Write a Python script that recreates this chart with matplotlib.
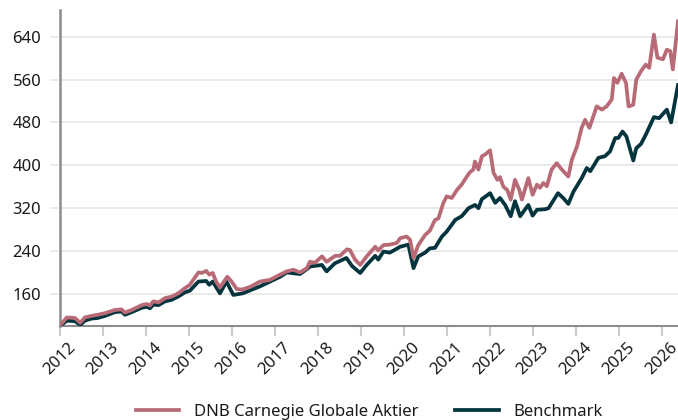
# Fund vs benchmark, indexed to 100 at start
import matplotlib
matplotlib.use("Agg")
import matplotlib.pyplot as plt

fund_name = "DNB Carnegie Globale Aktier"
bench_name = "Benchmark"

fund_t = [2012.0, 2012.16, 2012.35, 2012.47, 2012.58, 2012.74, 2012.88, 2013.05, 2013.28, 2013.43,
          2013.51, 2013.67, 2013.9, 2014.02, 2014.09, 2014.17, 2014.29, 2014.44, 2014.6, 2014.75,
          2014.91, 2015.02, 2015.22, 2015.3, 2015.4, 2015.47, 2015.55, 2015.63, 2015.72, 2015.89,
          2015.99, 2016.11, 2016.23, 2016.42, 2016.65, 2016.88, 2017.12, 2017.27, 2017.43, 2017.58,
          2017.74, 2017.81, 2017.93, 2018.09, 2018.2, 2018.4, 2018.51, 2018.67, 2018.74, 2018.86,
          2018.98, 2019.13, 2019.33, 2019.4, 2019.52, 2019.67, 2019.83, 2019.91, 2020.06, 2020.14,
          2020.22, 2020.33, 2020.49, 2020.6, 2020.72, 2020.8, 2020.91, 2020.99, 2021.11, 2021.23,
          2021.34, 2021.46, 2021.53, 2021.61, 2021.65, 2021.73, 2021.81, 2021.88, 2022.0, 2022.08,
          2022.17, 2022.23, 2022.31, 2022.4, 2022.48, 2022.58, 2022.68, 2022.74, 2022.89, 2022.99,
          2023.09, 2023.16, 2023.24, 2023.32, 2023.43, 2023.55, 2023.67, 2023.82, 2023.9, 2024.02,
          2024.13, 2024.21, 2024.31, 2024.48, 2024.6, 2024.71, 2024.83, 2024.88, 2024.96, 2025.06,
          2025.16, 2025.22, 2025.33, 2025.4, 2025.51, 2025.62, 2025.7, 2025.81, 2025.89, 2026.02,
          2026.11, 2026.19, 2026.25, 2026.37]
fund_v = [101, 116, 115, 106, 116, 119, 121, 124, 130, 131,
          125, 130, 139, 141, 138, 146, 144, 152, 155, 161,
          171, 177, 200, 199, 203, 196, 199, 183, 172, 192,
          183, 169, 168, 173, 183, 186, 196, 202, 205, 200,
          208, 220, 218, 230, 220, 231, 231, 243, 242, 224,
          214, 230, 248, 241, 251, 252, 255, 264, 267, 261,
          227, 251, 270, 278, 298, 301, 329, 342, 339, 354,
          364, 379, 387, 392, 407, 392, 417, 420, 428, 386,
          373, 378, 360, 354, 336, 373, 354, 336, 376, 345,
          364, 358, 367, 361, 392, 404, 392, 379, 410, 435,
          470, 485, 470, 510, 504, 510, 523, 563, 554, 571,
          554, 510, 513, 560, 576, 588, 582, 644, 601, 598,
          616, 613, 579, 669]

bench_t = [2012.0, 2012.16, 2012.35, 2012.47, 2012.58, 2012.74, 2012.88, 2013.05, 2013.28, 2013.43,
           2013.51, 2013.67, 2013.9, 2014.02, 2014.09, 2014.17, 2014.29, 2014.44, 2014.6, 2014.75,
           2014.91, 2015.02, 2015.22, 2015.4, 2015.47, 2015.55, 2015.72, 2015.87, 2016.03, 2016.25,
           2016.65, 2017.12, 2017.27, 2017.58, 2017.77, 2017.81, 2018.09, 2018.2, 2018.39, 2018.66,
           2018.79, 2018.98, 2019.13, 2019.33, 2019.4, 2019.52, 2019.67, 2019.91, 2020.1, 2020.22,
           2020.33, 2020.49, 2020.6, 2020.72, 2020.88, 2020.99, 2021.19, 2021.34, 2021.5, 2021.65,
           2021.73, 2021.81, 2021.9, 2022.0, 2022.12, 2022.23, 2022.35, 2022.48, 2022.58, 2022.7,
           2022.89, 2022.99, 2023.09, 2023.28, 2023.36, 2023.58, 2023.7, 2023.82, 2023.94, 2024.13,
           2024.25, 2024.33, 2024.52, 2024.67, 2024.79, 2024.91, 2024.98, 2025.08, 2025.17, 2025.33,
           2025.4, 2025.51, 2025.62, 2025.81, 2025.93, 2026.11, 2026.21, 2026.37]
bench_v = [100, 110, 109, 102, 110, 114, 115, 119, 126, 127,
           121, 126, 134, 136, 133, 140, 139, 146, 149, 155,
           163, 166, 183, 184, 177, 183, 161, 183, 158, 161,
           174, 192, 200, 197, 208, 211, 214, 202, 217, 227,
           212, 199, 214, 231, 224, 239, 237, 248, 252, 208,
           230, 237, 245, 246, 267, 276, 298, 305, 320, 326,
           320, 337, 342, 348, 330, 339, 326, 305, 333, 305,
           326, 306, 317, 318, 320, 348, 339, 328, 351, 376,
           395, 389, 414, 417, 426, 451, 451, 463, 454, 409,
           432, 440, 457, 490, 488, 504, 480, 550]

years = list(range(2012, 2027))
yticks = [160, 240, 320, 400, 480, 560, 640]

plt.rcParams['font.family'] = ['Noto Sans', 'DejaVu Sans']

fig = plt.figure(figsize=(6.78, 4.2), dpi=100)
ax = fig.add_axes([60 / 678, 94 / 420, 618 / 678, 316 / 420])

ax.plot(bench_t, bench_v, color='#04343d', lw=2.7, label=bench_name, zorder=3)
ax.plot(fund_t, fund_v, color='#b86b76', lw=2.7, label=fund_name, zorder=4)

ax.set_xlim(2012, 2026.37)
ax.set_ylim(100, 690)
ax.set_xticks(years)
ax.set_xticklabels([str(y) for y in years], rotation=45, fontsize=12, color='#1a1a1a')
ax.set_yticks(yticks)
ax.set_yticklabels([str(v) for v in yticks], fontsize=12, color='#1a1a1a')

ax.grid(axis='y', color='#e6e6e6', lw=1.2)
ax.set_axisbelow(True)
ax.tick_params(axis='y', length=7.5, color='#e6e6e6', width=1.2, pad=6)
ax.tick_params(axis='x', length=7, color='#cccccc', width=1.5, pad=3)

for s in ['top', 'right']:
    ax.spines[s].set_visible(False)
ax.spines['left'].set_color('#8c8c8c')
ax.spines['left'].set_linewidth(1.8)
ax.spines['bottom'].set_color('#8c8c8c')
ax.spines['bottom'].set_linewidth(1.5)

h, l = ax.get_legend_handles_labels()
fig.legend(h[::-1], l[::-1], loc='center', bbox_to_anchor=(0.545, 0.02), ncol=2,
           frameon=False, fontsize=12, handlelength=2.6, columnspacing=2.2,
           handletextpad=0.9, labelcolor='#1a1a1a')

fig.savefig("out.png", dpi=100)
